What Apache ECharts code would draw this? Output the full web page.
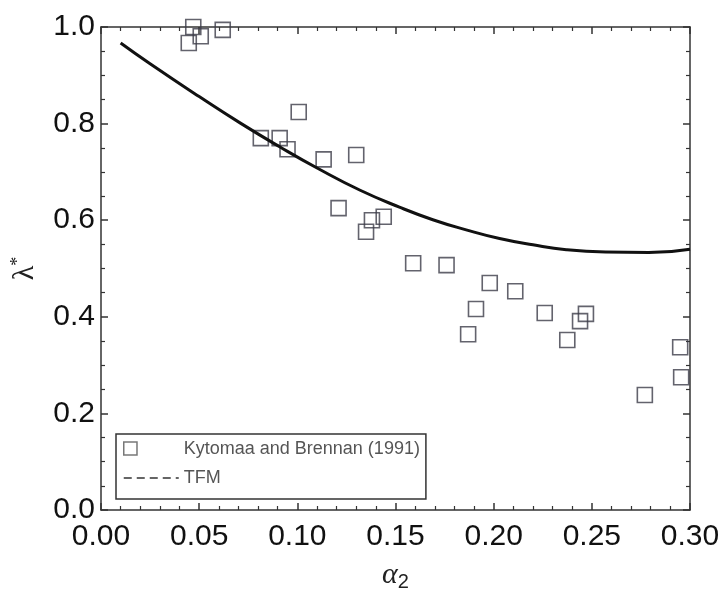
<!DOCTYPE html>
<html>
<head>
<meta charset="utf-8">
<script src="https://cdn.jsdelivr.net/npm/echarts@6/dist/echarts.min.js"></script>
<style>
  html, body { margin: 0; padding: 0; background: #fff; }
  #chart { width: 723px; height: 601px; }
</style>
</head>
<body>
<div id="chart"></div>
<script>
// measured points, Kytomaa and Brennan (1991)
const expX = [0.0447, 0.047, 0.0508, 0.062, 0.0814, 0.091, 0.095, 0.1007, 0.1134, 0.130,
  0.121, 0.135, 0.138, 0.144, 0.159, 0.176, 0.187, 0.191, 0.198, 0.211,
  0.226, 0.2375, 0.244, 0.247, 0.277, 0.295, 0.2955];
const expY = [0.967, 1.0, 0.981, 0.994, 0.770, 0.770, 0.747, 0.824, 0.726, 0.735,
  0.625, 0.576, 0.600, 0.607, 0.511, 0.507, 0.364, 0.416, 0.470, 0.453,
  0.408, 0.352, 0.391, 0.406, 0.238, 0.337, 0.275];

// TFM curve
const tfmX = [0.010, 0.025, 0.050, 0.071, 0.091, 0.111, 0.132, 0.152, 0.169, 0.186,
  0.203, 0.220, 0.237, 0.257, 0.279, 0.300];
const tfmY = [0.967, 0.924, 0.856, 0.801, 0.752, 0.706, 0.662, 0.627, 0.601, 0.580,
  0.562, 0.549, 0.539, 0.534, 0.533, 0.540];

const xTicks = ['0.00', '0.05', '0.10', '0.15', '0.20', '0.25', '0.30'];
const yTicks = ['0.0', '0.2', '0.4', '0.6', '0.8', '1.0'];

const expName = 'Kytomaa and Brennan (1991)';
const tfmName = 'TFM';

let chart = echarts.init(document.getElementById('chart'));

function frameLine() {
  return { show: true, onZero: false, lineStyle: { color: '#333', width: 1.5 } };
}
function tickIn() {
  return { show: true, inside: true, length: 7, lineStyle: { color: '#333', width: 1.5 } };
}
function minorTick(n) {
  return { show: true, splitNumber: n, length: 4, lineStyle: { color: '#333', width: 1.2 } };
}

let option = {
  animation: false,
  grid: { left: 101, right: 33, top: 27, bottom: 91, containLabel: false, outerBoundsMode: 'none' },
  legend: {
    orient: 'vertical',
    left: 116,
    top: 434,
    padding: [6, 6, 12, 7],
    itemWidth: 55,
    itemHeight: 14,
    itemGap: 11,
    borderColor: '#333',
    borderWidth: 1.5,
    backgroundColor: '#fff',
    selectedMode: false,
    symbolKeepAspect: false,
    textStyle: { fontFamily: 'Liberation Sans, Arial', fontSize: 18, color: '#555' },
    data: [
      {
        name: expName,
        // square on the left of the icon box, the lone move keeps the box width
        icon: 'path://M1,1H14V13H1Z M55,14',
        itemStyle: { color: 'rgba(0,0,0,0)', borderColor: '#555', borderWidth: 1.5 }
      },
      {
        name: tfmName,
        itemStyle: { opacity: 0 },
        lineStyle: { type: [8, 5], width: 1.5, color: '#333' }
      }
    ]
  },
  xAxis: [
    {
      type: 'value', min: 0, max: 0.3, interval: 0.05,
      axisLine: frameLine(), axisTick: tickIn(), minorTick: minorTick(5),
      splitLine: { show: false },
      axisLabel: {
        margin: 12, fontFamily: 'Liberation Sans, Arial', fontSize: 30, color: '#111',
        formatter: (v) => xTicks[Math.round(v / 0.05)]
      },
      name: '{a|α}{s|2}',
      nameLocation: 'middle',
      nameGap: 48,
      nameMoveOverlap: false,
      nameTextStyle: {
        rich: {
          a: { fontFamily: 'Liberation Serif', fontStyle: 'italic', fontSize: 30, color: '#222' },
          s: { fontFamily: 'Liberation Sans', fontSize: 20, color: '#222', padding: [14, 0, 0, 0] }
        }
      }
    },
    {
      type: 'value', min: 0, max: 0.3, interval: 0.05, position: 'top',
      axisLine: frameLine(), axisTick: tickIn(), minorTick: minorTick(5),
      splitLine: { show: false }, axisLabel: { show: false }
    }
  ],
  yAxis: [
    {
      type: 'value', min: 0, max: 1, interval: 0.2, position: 'left',
      axisLine: frameLine(), axisTick: tickIn(), minorTick: minorTick(4),
      splitLine: { show: false },
      axisLabel: {
        margin: 6, fontFamily: 'Liberation Sans, Arial', fontSize: 30, color: '#111',
        formatter: (v) => yTicks[Math.round(v / 0.2)]
      },
      name: '{a|λ}{s|*}',
      nameLocation: 'middle',
      nameGap: 60,
      nameMoveOverlap: false,
      nameTextStyle: {
        rich: {
          a: { fontFamily: 'Liberation Serif', fontSize: 30, color: '#222' },
          s: { fontFamily: 'Liberation Serif', fontSize: 18, color: '#222', padding: [0, 0, 14, 0] }
        }
      }
    },
    {
      type: 'value', min: 0, max: 1, interval: 0.2, position: 'right',
      axisLine: frameLine(), axisTick: tickIn(), minorTick: minorTick(4),
      splitLine: { show: false }, axisLabel: { show: false }
    }
  ],
  series: [
    {
      name: expName,
      type: 'scatter',
      symbol: 'rect',
      symbolSize: 15,
      clip: false,
      itemStyle: { color: 'rgba(0,0,0,0)', borderColor: '#3c3c48', borderWidth: 1.6 },
      emphasis: { disabled: true },
      data: expX.map((x, i) => [x, expY[i]])
    },
    {
      name: tfmName,
      type: 'line',
      smooth: true,
      symbol: 'none',
      lineStyle: { color: '#111', width: 3 },
      emphasis: { disabled: true },
      data: tfmX.map((x, i) => [x, tfmY[i]])
    }
  ]
};

chart.setOption(option);
</script>
</body>
</html>
